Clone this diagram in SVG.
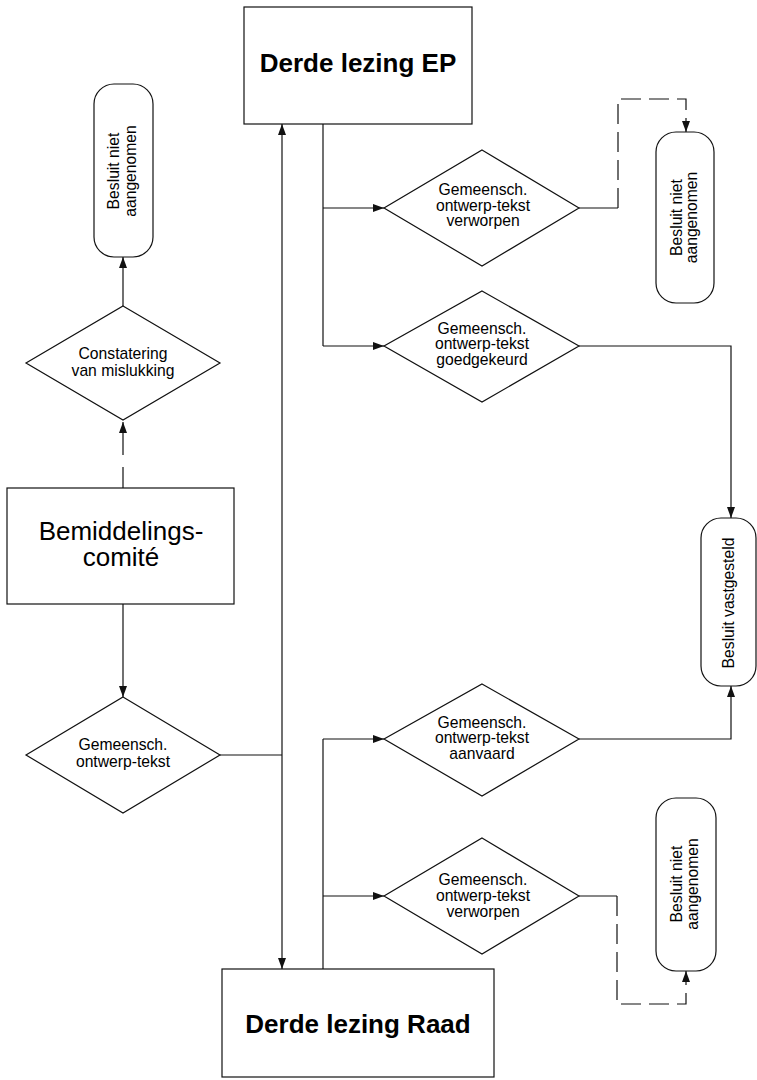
<svg xmlns="http://www.w3.org/2000/svg" width="757" height="1080" viewBox="0 0 757 1080">
<style>
  .shape { fill: #fff; stroke: #111; stroke-width: 1.2; }
  .conn { fill: none; stroke: #111; stroke-width: 1.2; }
  .dash { stroke-dasharray: 20 8; }
  .t { font-family: "Liberation Sans", Arial, sans-serif; font-size: 15.7px; fill: #000; text-anchor: middle; }
  .big { font-family: "Liberation Sans", Arial, sans-serif; font-size: 26px; fill: #000; text-anchor: middle; }
  .bold { font-weight: bold; }
</style>
<defs>
  <marker id="ah" markerUnits="userSpaceOnUse" markerWidth="12" markerHeight="9" refX="11" refY="4" orient="auto">
    <path d="M0,0 L11,4 L0,8 z" fill="#111"/>
  </marker>
</defs>
<rect width="757" height="1080" fill="#fff"/>

<g id="connectors">
  <path class="conn" d="M123,488 V422" stroke-dasharray="21 12 40" marker-end="url(#ah)"/>
  <path class="conn" d="M123,306 V257" marker-end="url(#ah)"/>
  <path class="conn" d="M123,604 V697" marker-end="url(#ah)"/>
  <path class="conn" d="M220,755 H282"/>
  <path class="conn" d="M282,755 V124" marker-end="url(#ah)"/>
  <path class="conn" d="M282,755 V969" marker-end="url(#ah)"/>
  <path class="conn" d="M323,124 V346"/>
  <path class="conn" d="M323,208 H384" marker-end="url(#ah)"/>
  <path class="conn" d="M323,346 H384" marker-end="url(#ah)"/>
  <path class="conn" d="M579,208 H618"/>
  <path class="conn dash" d="M618,208 V99 H686 V132" marker-end="url(#ah)"/>
  <path class="conn" d="M579,346 H731 V518" marker-end="url(#ah)"/>
  <path class="conn" d="M323,969 V739"/>
  <path class="conn" d="M323,739 H384" marker-end="url(#ah)"/>
  <path class="conn" d="M323,896 H384" marker-end="url(#ah)"/>
  <path class="conn" d="M579,739 H731 V686" marker-end="url(#ah)"/>
  <path class="conn" d="M579,896 H617"/>
  <path class="conn dash" d="M617,896 V1004 H686 V971" marker-end="url(#ah)"/>
</g>

<g id="ep">
  <rect class="shape" x="244" y="7" width="228" height="117"/>
  <text class="big bold" x="358" y="72">Derde lezing EP</text>
</g>

<g id="raad">
  <rect class="shape" x="222" y="969" width="272" height="108"/>
  <text class="big bold" x="358" y="1033">Derde lezing Raad</text>
</g>

<g id="bemiddeling">
  <rect class="shape" x="7" y="488" width="227" height="116"/>
  <text class="big" x="121"><tspan x="121" y="540">Bemiddelings-</tspan><tspan x="121" y="566">comité</tspan></text>
</g>

<g id="constatering">
  <polygon class="shape" points="123,306 220,363 123,420 26,363"/>
  <text class="t" x="123" y="359">Constatering</text>
  <text class="t" x="123" y="376">van mislukking</text>
</g>

<g id="gemeensch">
  <polygon class="shape" points="123,697 220,755 123,813 26,755"/>
  <text class="t" x="123" y="750">Gemeensch.</text>
  <text class="t" x="123" y="767">ontwerp-tekst</text>
</g>

<g id="verworpen-ep">
  <polygon class="shape" points="482,150 579,208 482,266 384,208"/>
  <text class="t" x="483" y="195">Gemeensch.</text>
  <text class="t" x="483" y="211">ontwerp-tekst</text>
  <text class="t" x="483" y="226">verworpen</text>
</g>

<g id="goedgekeurd">
  <polygon class="shape" points="482,291 579,346 482,402 384,346"/>
  <text class="t" x="482" y="334">Gemeensch.</text>
  <text class="t" x="482" y="349">ontwerp-tekst</text>
  <text class="t" x="482" y="365">goedgekeurd</text>
</g>

<g id="aanvaard">
  <polygon class="shape" points="482,684 579,739 482,796 384,739"/>
  <text class="t" x="482" y="728">Gemeensch.</text>
  <text class="t" x="482" y="743">ontwerp-tekst</text>
  <text class="t" x="482" y="759">aanvaard</text>
</g>

<g id="verworpen-raad">
  <polygon class="shape" points="482,838 579,896 482,954 384,896"/>
  <text class="t" x="483" y="885">Gemeensch.</text>
  <text class="t" x="483" y="901">ontwerp-tekst</text>
  <text class="t" x="483" y="917">verworpen</text>
</g>

<g id="niet-aangenomen-links">
  <rect class="shape" x="94" y="84" width="59" height="173" rx="20" ry="20"/>
  <text class="t" transform="translate(123.5,171) rotate(-90)"><tspan x="0" y="-4.5">Besluit niet</tspan><tspan x="0" y="12">aangenomen</tspan></text>
</g>

<g id="niet-aangenomen-boven">
  <rect class="shape" x="656" y="132" width="58" height="171" rx="20" ry="20"/>
  <text class="t" transform="translate(685,217.5) rotate(-90)"><tspan x="0" y="-3">Besluit niet</tspan><tspan x="0" y="12">aangenomen</tspan></text>
</g>

<g id="niet-aangenomen-onder">
  <rect class="shape" x="656" y="798" width="60" height="173" rx="20" ry="20"/>
  <text class="t" transform="translate(686,884) rotate(-90)"><tspan x="0" y="-4.5">Besluit niet</tspan><tspan x="0" y="11.5">aangenomen</tspan></text>
</g>

<g id="vastgesteld">
  <rect class="shape" x="701" y="518" width="55" height="168" rx="20" ry="20"/>
  <text class="t" transform="translate(733.5,603) rotate(-90)" x="0" y="0">Besluit vastgesteld</text>
</g>
</svg>
